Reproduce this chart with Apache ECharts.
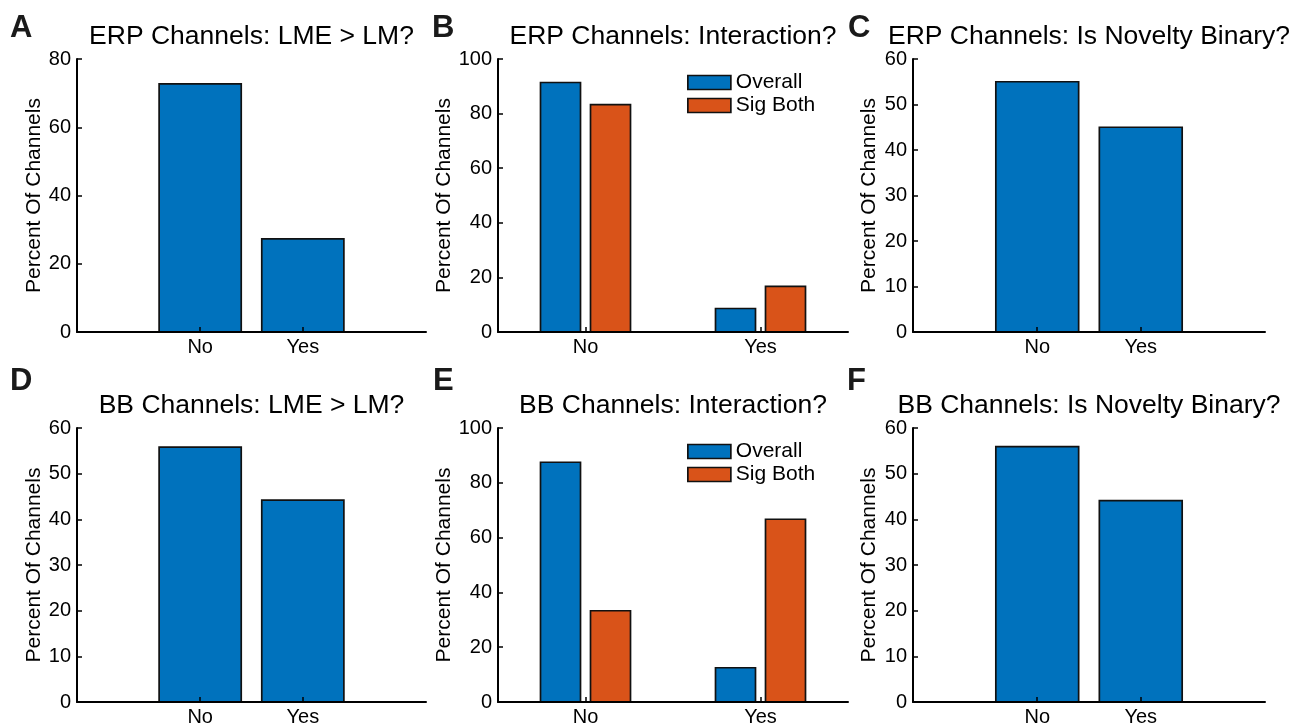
<!DOCTYPE html>
<html>
<head>
<meta charset="utf-8">
<script src="https://cdn.jsdelivr.net/npm/echarts@6/dist/echarts.min.js"></script>
<style>
  html, body { margin: 0; padding: 0; background: #fff; }
  #chart { width: 1295px; height: 727px; }
</style>
</head>
<body>
<div id="chart"></div>
<script>
// Category labels shared by every panel
const categories = ['No', 'Yes'];

// Percent of channels per answer
const erpLmeVsLm      = [72.7, 27.3];
const erpInterOverall = [91.4, 8.6];
const erpInterSigBoth = [83.3, 16.7];
const erpNovelty      = [55.0, 45.0];
const bbLmeVsLm       = [55.8, 44.2];
const bbInterOverall  = [87.5, 12.5];
const bbInterSigBoth  = [33.3, 66.7];
const bbNovelty       = [55.9, 44.1];

const seriesNames = ['Overall', 'Sig Both'];

const panelTitles = [
  'ERP Channels: LME > LM?',
  'ERP Channels: Interaction?',
  'ERP Channels: Is Novelty Binary?',
  'BB Channels: LME > LM?',
  'BB Channels: Interaction?',
  'BB Channels: Is Novelty Binary?'
];
const panelLetters = ['A', 'B', 'C', 'D', 'E', 'F'];

const BLUE = '#0072BD';
const ORANGE = '#D95319';
const FONT = "'Liberation Sans', Arial, Helvetica, sans-serif";

// panel layout: grid box, y range, bar groups
const panels = [
  { left: 77,  top: 59,  width: 349, height: 273, ymax: 80,  step: 20, nameGap: 31, groups: [erpLmeVsLm] },
  { left: 498, top: 59,  width: 350, height: 273, ymax: 100, step: 20, nameGap: 37, groups: [erpInterOverall, erpInterSigBoth], legendTop: 75 },
  { left: 913, top: 59,  width: 352, height: 273, ymax: 60,  step: 10, nameGap: 33, groups: [erpNovelty] },
  { left: 77,  top: 428, width: 349, height: 274, ymax: 60,  step: 10, nameGap: 31, groups: [bbLmeVsLm] },
  { left: 498, top: 428, width: 350, height: 274, ymax: 100, step: 20, nameGap: 37, groups: [bbInterOverall, bbInterSigBoth], legendTop: 444 },
  { left: 913, top: 428, width: 352, height: 274, ymax: 60,  step: 10, nameGap: 33, groups: [bbNovelty] }
];

function barRenderer(barWidth, color) {
  return function (params, api) {
    const x = api.value(0);
    const y = api.value(1);
    const a = api.coord([x - barWidth / 2, y]);
    const b = api.coord([x + barWidth / 2, 0]);
    return {
      type: 'rect',
      shape: { x: a[0], y: a[1], width: b[0] - a[0], height: b[1] - a[1] },
      style: { fill: color, stroke: '#111', lineWidth: 1.7 }
    };
  };
}

const grid = [], xAxis = [], yAxis = [], series = [], title = [], legend = [], graphic = [];

panels.forEach((p, i) => {
  const grouped = p.groups.length > 1;
  grid.push({ left: p.left, top: p.top, width: p.width, height: p.height, containLabel: false });

  xAxis.push({
    gridIndex: i,
    type: 'value',
    min: grouped ? 0.5 : -0.2,
    max: grouped ? 2.5 : 3.2,
    z: 5,
    axisLine: { show: true, onZero: false, lineStyle: { color: '#000', width: 2 } },
    axisTick: { show: true, inside: true, length: 5, customValues: [1, 2], lineStyle: { color: '#000', width: 1.5 } },
    axisLabel: {
      customValues: [1, 2],
      margin: 5,
      color: '#000', fontSize: 20, fontFamily: FONT,
      formatter: v => categories[Math.round(v) - 1]
    },
    splitLine: { show: false }
  });

  yAxis.push({
    gridIndex: i,
    type: 'value',
    min: 0,
    max: p.ymax,
    interval: p.step,
    z: 5,
    name: 'Percent Of Channels',
    nameLocation: 'middle',
    nameGap: p.nameGap,
    nameTextStyle: { color: '#000', fontSize: 21, fontFamily: FONT },
    axisLine: { show: true, onZero: false, lineStyle: { color: '#000', width: 2 } },
    axisTick: { show: true, inside: true, length: 5, lineStyle: { color: '#000', width: 1.5 } },
    axisLabel: { margin: 6, color: '#000', fontSize: 20, fontFamily: FONT },
    splitLine: { show: false }
  });

  const colors = [BLUE, ORANGE];
  const nGroups = p.groups.length;
  // grouped bars sit at +/- one quarter of the group width around each category
  const groupWidth = grouped ? Math.min(0.8, nGroups / (nGroups + 1.5)) : 0;
  const barWidth = grouped ? groupWidth / nGroups * 0.8 : 0.8;
  p.groups.forEach((vals, g) => {
    const offset = grouped ? (g - (nGroups - 1) / 2) * groupWidth / nGroups : 0;
    series.push({
      type: 'custom',
      name: grouped ? seriesNames[g] : 'Percent',
      xAxisIndex: i,
      yAxisIndex: i,
      clip: false,
      encode: { x: 0, y: 1 },
      data: vals.map((v, k) => [k + 1 + offset, v]),
      renderItem: barRenderer(barWidth, colors[g]),
      z: 2
    });
  });

  if (grouped) {
    legend.push({
      orient: 'vertical',
      left: p.left + 189,
      top: p.legendTop - 3,
      padding: 0,
      itemWidth: 43,
      itemHeight: 14,
      itemGap: 2,
      selectedMode: false,
      textStyle: { color: '#000', fontSize: 21, fontFamily: FONT },
      data: seriesNames.map((n, g) => ({
        name: n,
        icon: 'rect',
        itemStyle: { color: colors[g], borderColor: '#111', borderWidth: 1.7 }
      }))
    });
  }

  title.push({
    text: panelTitles[i],
    left: p.left + p.width / 2,
    textAlign: 'center',
    top: p.top - 36,
    padding: 0,
    textStyle: { color: '#000', fontSize: 26.5, fontWeight: 'normal', fontFamily: FONT }
  });
});

const letterPos = [[10, 13], [432, 13], [848, 13], [10, 366], [433, 366], [847, 366]];
panelLetters.forEach((t, i) => {
  graphic.push({
    type: 'text',
    left: letterPos[i][0],
    top: letterPos[i][1],
    style: { text: t, font: "bold 31px " + FONT, fill: '#1a1a1a' }
  });
});

const chart = echarts.init(document.getElementById('chart'), null, { renderer: 'canvas' });
chart.setOption({
  backgroundColor: '#fff',
  animation: false,
  grid, xAxis, yAxis, series, title, legend, graphic
});
</script>
</body>
</html>
